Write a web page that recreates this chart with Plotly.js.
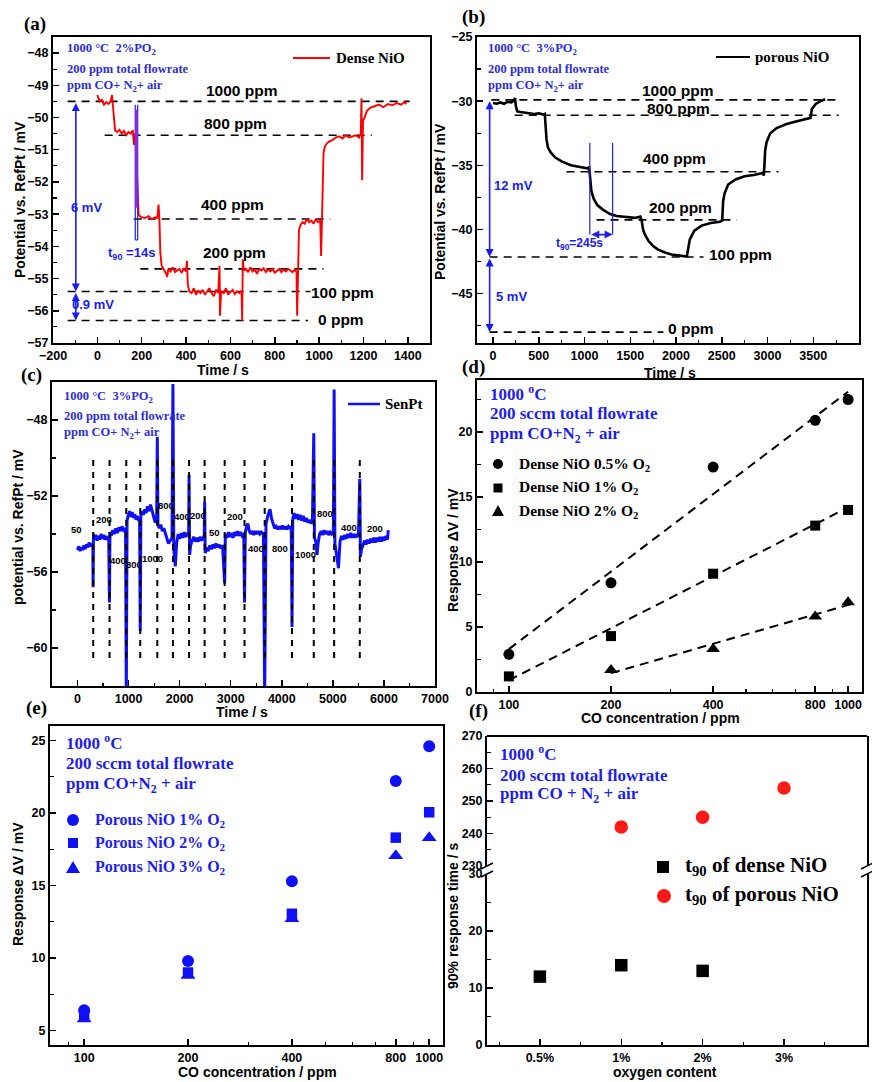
<!DOCTYPE html>
<html><head><meta charset="utf-8">
<script src="https://cdn.plot.ly/plotly-3.0.1.min.js"></script>
<style>html,body{margin:0;padding:0;background:#fff}#chart{width:872px;height:1082px}</style>
</head><body><div id="chart"></div>
<script>
// ---------------- DATA ----------------
// (a) Dense NiO, 2% PO2 : [time s, potential mV]
const aTrace = [[0,-49.30],[10,-49.50],[20,-49.45],[30,-49.60],[40,-49.52],[50,-49.58],[60,-49.50],[66,-49.30],[70,-49.62],[75,-50.00],[80,-50.40],[90,-50.45],[100,-50.38],[110,-50.50],[120,-50.42],[130,-50.55],[140,-50.45],[150,-50.50],[160,-50.40],[165,-50.85],[170,-50.50],[174,-50.90],[178,-51.80],[182,-52.70],[186,-53.00],[190,-53.05],[200,-53.10],[215,-53.12],[230,-53.06],[245,-53.15],[260,-53.10],[270,-53.12],[276,-52.70],[280,-53.20],[284,-54.20],[290,-54.60],[300,-54.72],[310,-54.85],[315,-54.95],[320,-54.70],[330,-54.78],[340,-54.65],[350,-54.80],[360,-54.75],[370,-54.70],[380,-54.82],[390,-54.70],[400,-54.78],[404,-54.45],[408,-55.20],[415,-55.40],[425,-55.45],[435,-55.30],[445,-55.50],[455,-55.38],[465,-55.45],[475,-55.35],[485,-55.50],[495,-55.40],[505,-55.30],[515,-55.45],[525,-55.55],[535,-55.35],[545,-55.45],[551,-54.60],[553,-56.15],[558,-55.40],[570,-55.45],[580,-55.30],[590,-55.50],[600,-55.42],[610,-55.35],[620,-55.48],[630,-55.40],[640,-55.45],[650,-55.38],[653,-56.30],[656,-54.40],[660,-54.75],[670,-54.70],[680,-54.80],[690,-54.65],[700,-54.78],[710,-54.72],[720,-54.85],[730,-54.70],[740,-54.75],[750,-54.68],[760,-54.80],[770,-54.72],[780,-54.78],[790,-54.70],[800,-54.82],[810,-54.75],[820,-54.70],[830,-54.80],[840,-54.72],[850,-54.78],[860,-54.70],[870,-54.75],[880,-54.80],[890,-54.72],[898,-54.80],[901,-56.15],[905,-54.00],[909,-53.50],[915,-53.35],[925,-53.25],[935,-53.30],[945,-53.15],[955,-53.25],[965,-53.20],[975,-53.30],[985,-53.15],[995,-53.25],[1005,-53.20],[1009,-54.30],[1014,-52.50],[1020,-51.10],[1026,-50.90],[1035,-50.80],[1045,-50.75],[1060,-50.70],[1075,-50.62],[1090,-50.58],[1105,-50.65],[1120,-50.55],[1135,-50.62],[1150,-50.58],[1165,-50.55],[1180,-50.62],[1188,-50.50],[1191,-49.40],[1194,-51.95],[1198,-50.10],[1205,-50.00],[1215,-49.80],[1230,-49.70],[1250,-49.65],[1270,-49.60],[1290,-49.68],[1310,-49.58],[1330,-49.62],[1350,-49.55],[1370,-49.60],[1385,-49.52],[1393,-49.58]];
const aLevelNames = ['1000 ppm','800 ppm','400 ppm','200 ppm','100 ppm','0 ppm'];
const aLevels = [-49.5,-50.55,-53.15,-54.7,-55.4,-56.3];
const aLevelFrom = [-134,33,164,194,-134,-134];
const aLevelTo = [1408,1237,1050,1020,961,950];

// (b) porous NiO, 3% PO2
const bTrace = [[0,-30.15],[40,-30.20],[80,-30.10],[120,-30.20],[160,-30.05],[200,-30.10],[230,-29.95],[240,-29.75],[250,-30.40],[265,-30.80],[300,-30.85],[350,-30.90],[400,-30.95],[450,-31.00],[500,-30.95],[550,-31.05],[566,-31.00],[575,-32.00],[585,-33.00],[600,-33.60],[630,-34.00],[680,-34.40],[750,-34.70],[850,-35.00],[950,-35.15],[1040,-35.25],[1050,-35.10],[1060,-36.20],[1075,-37.00],[1100,-37.60],[1140,-38.10],[1200,-38.45],[1280,-38.80],[1350,-38.95],[1450,-39.05],[1550,-39.10],[1610,-39.00],[1625,-39.30],[1640,-40.00],[1660,-40.40],[1700,-40.90],[1750,-41.30],[1800,-41.55],[1880,-41.80],[1950,-41.95],[2030,-42.05],[2100,-42.10],[2120,-42.05],[2135,-41.20],[2150,-40.80],[2200,-40.10],[2280,-39.70],[2380,-39.50],[2480,-39.40],[2505,-39.30],[2515,-37.80],[2530,-37.20],[2570,-36.50],[2650,-36.10],[2750,-35.85],[2850,-35.75],[2950,-35.60],[2960,-35.80],[2975,-33.80],[2990,-33.20],[3030,-32.50],[3100,-32.10],[3200,-31.80],[3300,-31.60],[3400,-31.40],[3470,-31.30],[3485,-30.60],[3530,-30.20],[3580,-30.00],[3630,-29.85]];
const bLevelNames = ['1000 ppm','800 ppm','400 ppm','200 ppm','100 ppm','0 ppm'];
const bLevels = [-29.9,-31.1,-35.5,-39.25,-42.15,-48.0];
const bLevelFrom = [-18,237,803,1131,-37,-37];
const bLevelTo = [3778,3778,3120,2664,2300,1862];

// (c) SenPt, 3% PO2
const cTrace = [[0,-54.85],[25,-54.65],[50,-54.9],[75,-54.7],[100,-54.85],[125,-54.6],[150,-54.8],[175,-54.55],[200,-54.7],[225,-54.45],[250,-54.65],[275,-54.5],[300,-54.6],[305,-56.8],[312,-54.0],[335,-54.3],[360,-54.05],[385,-54.35],[410,-54.1],[435,-54.3],[460,-54.0],[485,-54.25],[510,-54.05],[535,-54.3],[560,-54.1],[585,-54.3],[610,-54.15],[625,-57.6],[635,-53.9],[660,-54.1],[690,-53.8],[720,-54.0],[750,-53.7],[780,-53.95],[810,-53.65],[840,-53.85],[870,-53.6],[900,-53.8],[940,-53.7],[955,-62.5],[970,-53.3],[995,-53.0],[1020,-52.8],[1045,-53.1],[1070,-52.85],[1095,-53.15],[1120,-52.95],[1145,-53.25],[1170,-53.05],[1200,-53.3],[1215,-53.2],[1228,-59.1],[1240,-53.0],[1265,-52.8],[1290,-53.0],[1315,-52.7],[1340,-52.9],[1370,-52.55],[1400,-52.8],[1430,-52.45],[1460,-52.75],[1490,-53.1],[1520,-53.4],[1550,-53.2],[1562,-48.9],[1575,-53.5],[1600,-53.7],[1630,-53.5],[1660,-53.85],[1690,-53.7],[1720,-54.0],[1750,-54.3],[1780,-54.5],[1850,-54.2],[1868,-46.1],[1885,-54.8],[1915,-55.7],[1940,-54.5],[1970,-54.0],[2000,-54.25],[2030,-53.95],[2060,-54.2],[2090,-53.9],[2120,-54.15],[2150,-53.95],[2175,-54.1],[2184,-50.9],[2195,-55.1],[2215,-54.6],[2245,-54.35],[2275,-54.15],[2305,-54.4],[2335,-54.2],[2365,-54.4],[2395,-54.15],[2425,-54.35],[2455,-54.2],[2480,-54.3],[2489,-52.3],[2500,-55.0],[2530,-54.7],[2560,-54.9],[2590,-54.6],[2620,-54.8],[2650,-54.55],[2680,-54.75],[2710,-54.5],[2740,-54.7],[2770,-54.55],[2800,-54.75],[2840,-54.6],[2881,-56.6],[2895,-54.0],[2925,-54.2],[2955,-53.9],[2985,-54.15],[3015,-53.95],[3045,-54.2],[3075,-53.9],[3105,-54.1],[3135,-53.85],[3165,-54.1],[3195,-53.9],[3225,-54.1],[3255,-54.0],[3270,-57.6],[3285,-53.9],[3310,-53.6],[3335,-53.45],[3360,-53.8],[3390,-54.0],[3420,-53.85],[3450,-54.05],[3480,-53.85],[3510,-54.0],[3540,-53.85],[3570,-54.0],[3600,-53.9],[3640,-54.0],[3665,-62.5],[3690,-53.5],[3730,-53.0],[3770,-52.7],[3800,-53.2],[3830,-53.5],[3860,-53.7],[3890,-53.6],[3920,-53.75],[3950,-53.6],[3980,-53.75],[4010,-53.55],[4040,-53.75],[4070,-53.6],[4100,-53.75],[4130,-53.6],[4160,-53.7],[4185,-53.6],[4200,-58.9],[4215,-53.2],[4240,-52.9],[4270,-53.2],[4300,-52.95],[4330,-53.25],[4360,-53.0],[4390,-53.3],[4420,-53.05],[4450,-53.35],[4480,-53.15],[4510,-53.4],[4540,-53.25],[4570,-53.45],[4600,-53.3],[4626,-48.7],[4640,-54.2],[4665,-54.4],[4690,-55.1],[4710,-54.5],[4740,-54.0],[4770,-53.85],[4800,-54.05],[4830,-53.8],[4860,-54.0],[4890,-53.85],[4920,-54.05],[4950,-53.9],[4980,-54.0],[5010,-53.9],[5025,-46.4],[5040,-54.5],[5080,-55.3],[5110,-55.8],[5140,-54.4],[5170,-54.1],[5200,-54.3],[5230,-54.05],[5260,-54.25],[5290,-54.0],[5320,-54.2],[5350,-53.95],[5380,-54.2],[5410,-54.0],[5440,-54.2],[5470,-54.0],[5500,-54.15],[5527,-51.1],[5540,-55.2],[5560,-54.8],[5590,-54.6],[5620,-54.35],[5650,-54.55],[5680,-54.3],[5710,-54.5],[5740,-54.25],[5770,-54.45],[5800,-54.2],[5830,-54.45],[5860,-54.2],[5890,-54.4],[5920,-54.15],[5950,-54.4],[5980,-54.15],[6010,-54.35],[6040,-54.1],[6070,-54.3],[6085,-53.8]];
const cSwitchTimes = [307,627,954,1228,1562,1868,2184,2489,2881,3270,3665,4200,4626,5025,5527];
const cSwitchTop = -50.1, cSwitchBottom = -60.6;
const cStepLabels = ['50','200','400','800','1000','800','400','200','50','200','400','800','1000','800','400','200'];
const cStepLabelT = [-20,517,798,1112,1471,1727,2040,2367,2675,3087,3499,3957,4460,4853,5310,5834];
const cStepLabelV = [-53.75,-53.26,-55.4,-55.6,-55.3,-52.5,-53.1,-53.0,-53.9,-53.1,-54.75,-54.75,-55.1,-52.9,-53.65,-53.7];

// (d) dense NiO response vs CO
const dConc = [100,200,400,800,1000];
const dResp05 = [2.9,8.4,17.3,20.9,22.5];
const dResp1 = [1.2,4.3,9.1,12.8,14.0];
const dConc2 = [200,400,800,1000];
const dResp2 = [1.7,3.3,5.8,6.9];
const dFit05X = [100,1000], dFit05Y = [3.3,23.1];
const dFit1X = [100,1000], dFit1Y = [0.9,14.2];
const dFit2X = [200,1050], dFit2Y = [1.45,6.85];

// (e) porous NiO response vs CO
const eConc = [100,200,400,800,1000];
const eResp1 = [6.4,9.8,15.3,22.2,24.6];
const eResp2 = [6.0,9.0,13.05,18.3,20.05];
const eResp3 = [5.8,8.8,12.7,17.05,18.3];

// (f) t90 vs oxygen content
const oxygenLabels = ['0.5%','1%','2%','3%'];
const denseOxygen = ['0.5%','1%','2%'];
const denseT90 = [12,14,13];
const porousOxygen = ['1%','2%','3%'];
const porousT90 = [242,245,254];

// ---------------- HELPERS ----------------
const W = 872, H = 1082;
const FS = 'Liberation Sans, Arial, sans-serif';
const FT = 'Liberation Serif, Times New Roman, serif';
const BLUE_T = '#2e2ed2';
const BLUE = '#1010f5';
const fx = p => p / W, fy = p => 1 - p / H;

function levelLines(levels, from, to) {
  const x = [], y = [];
  levels.forEach((v, i) => { x.push(from[i], to[i], null); y.push(v, v, null); });
  return {x, y};
}
function axis(o) {
  return Object.assign({
    showline: true, mirror: true, linecolor: '#000', linewidth: 2,
    ticks: 'inside', ticklen: 6, tickwidth: 1.5, tickcolor: '#000',
    showgrid: false, zeroline: false, fixedrange: true,
    tickfont: {family: FS, size: 12.5, color: '#000', weight: 'bold'}
  }, o);
}
function minor(o) { return Object.assign({ticks: 'inside', ticklen: 3.5, tickwidth: 1.2, tickcolor: '#000', showgrid: false}, o); }

const traces = [];
// (a)
const aLv = levelLines(aLevels, aLevelFrom, aLevelTo);
traces.push({x: aLv.x, y: aLv.y, xaxis: 'x', yaxis: 'y', mode: 'lines', line: {color: '#000', width: 1.6, dash: '8px,6px'}, hoverinfo: 'skip'});
traces.push({x: aTrace.map(p => p[0]), y: aTrace.map(p => p[1]), xaxis: 'x', yaxis: 'y', mode: 'lines', line: {color: '#ff0000', width: 1.9}, name: 'Dense NiO'});
// (b)
const bLv = levelLines(bLevels, bLevelFrom, bLevelTo);
traces.push({x: bLv.x, y: bLv.y, xaxis: 'x2', yaxis: 'y2', mode: 'lines', line: {color: '#000', width: 1.6, dash: '8px,6px'}, hoverinfo: 'skip'});
traces.push({x: bTrace.map(p => p[0]), y: bTrace.map(p => p[1]), xaxis: 'x2', yaxis: 'y2', mode: 'lines', line: {color: '#000', width: 2.6}, name: 'porous NiO'});
// (c)
const cvx = [], cvy = [];
cSwitchTimes.forEach(t => { cvx.push(t, t, null); cvy.push(cSwitchTop, cSwitchBottom, null); });
traces.push({x: cTrace.map(p => p[0]), y: cTrace.map(p => p[1]), xaxis: 'x3', yaxis: 'y3', mode: 'lines', line: {color: BLUE, width: 3}, name: 'SenPt'});
traces.push({x: cvx, y: cvy, xaxis: 'x3', yaxis: 'y3', mode: 'lines', line: {color: '#000', width: 2, dash: '6px,6px'}, hoverinfo: 'skip'});
// (d)
const dash = {color: '#000', width: 2, dash: '9px,6px'};
traces.push({x: dFit05X, y: dFit05Y, xaxis: 'x4', yaxis: 'y4', mode: 'lines', line: dash});
traces.push({x: dFit1X, y: dFit1Y, xaxis: 'x4', yaxis: 'y4', mode: 'lines', line: dash});
traces.push({x: dFit2X, y: dFit2Y, xaxis: 'x4', yaxis: 'y4', mode: 'lines', line: dash});
traces.push({x: dConc, y: dResp05, xaxis: 'x4', yaxis: 'y4', mode: 'markers', marker: {symbol: 'circle', size: 11, color: '#000'}});
traces.push({x: dConc, y: dResp1, xaxis: 'x4', yaxis: 'y4', mode: 'markers', marker: {symbol: 'square', size: 10, color: '#000'}});
traces.push({x: dConc2, y: dResp2, xaxis: 'x4', yaxis: 'y4', mode: 'markers', marker: {symbol: 'triangle-up', size: 12, color: '#000'}});
// (e)
traces.push({x: eConc, y: eResp3, xaxis: 'x5', yaxis: 'y5', mode: 'markers', marker: {symbol: 'triangle-up', size: 13, color: BLUE}});
traces.push({x: eConc, y: eResp2, xaxis: 'x5', yaxis: 'y5', mode: 'markers', marker: {symbol: 'square', size: 10.5, color: BLUE}});
traces.push({x: eConc, y: eResp1, xaxis: 'x5', yaxis: 'y5', mode: 'markers', marker: {symbol: 'circle', size: 12, color: BLUE}});
// (f)
traces.push({x: denseOxygen.map(o => oxygenLabels.indexOf(o)), y: denseT90, xaxis: 'x6', yaxis: 'y6', mode: 'markers', marker: {symbol: 'square', size: 12.5, color: '#000'}});
traces.push({x: porousOxygen.map(o => oxygenLabels.indexOf(o)), y: porousT90, xaxis: 'x6', yaxis: 'y7', mode: 'markers', marker: {symbol: 'circle', size: 13.5, color: '#ff1a1a'}});

// ---------------- LAYOUT ----------------
const layout = {
  width: W, height: H, margin: {l: 0, r: 0, t: 0, b: 0},
  paper_bgcolor: '#fff', plot_bgcolor: 'rgba(0,0,0,0)', showlegend: false,
  xaxis: axis({domain: [fx(53), fx(430)], anchor: 'y', range: [-200, 1500], tick0: 0, dtick: 200, minor: minor({dtick: 100})}),
  yaxis: axis({domain: [fy(343), fy(37)], anchor: 'x', range: [-57, -47.5], tick0: -57, dtick: 1, minor: minor({dtick: 0.5})}),
  xaxis2: axis({domain: [fx(477), fx(859)], anchor: 'y2', range: [-175, 4000], tick0: 0, dtick: 500, minor: minor({dtick: 250})}),
  yaxis2: axis({domain: [fy(343), fy(37)], anchor: 'x2', range: [-48.85, -25], tick0: -25, dtick: 5, minor: minor({dtick: 2.5})}),
  xaxis3: axis({domain: [fx(52), fx(435)], anchor: 'y3', range: [-500, 7000], tick0: 0, dtick: 1000, minor: minor({dtick: 500})}),
  yaxis3: axis({domain: [fy(686), fy(382)], anchor: 'x3', range: [-62, -46], tickmode: 'array', tickvals: [-48, -52, -56, -60], minor: minor({tickmode: 'array', tickvals: [-46, -50, -54, -58, -62]})}),
  xaxis4: axis({domain: [fx(477), fx(862)], anchor: 'y4', type: 'log', range: [1.906, 3.041], tickmode: 'array', tickvals: [100, 200, 400, 800, 1000], ticktext: ['100', '200', '400', '800', '1000'], minor: minor({tickmode: 'array', tickvals: [90, 300, 500, 600, 700, 900]})}),
  yaxis4: axis({domain: [fy(692), fy(380)], anchor: 'x4', range: [0, 24], tick0: 0, dtick: 5, minor: minor({dtick: 2.5})}),
  xaxis5: axis({domain: [fx(50), fx(443)], anchor: 'y5', type: 'log', range: [1.901, 3.04], tickmode: 'array', tickvals: [100, 200, 400, 800, 1000], ticktext: ['100', '200', '400', '800', '1000'], minor: minor({tickmode: 'array', tickvals: [90, 300, 500, 600, 700, 900]})}),
  yaxis5: axis({domain: [fy(1045), fy(726)], anchor: 'x5', range: [4, 26], tick0: 0, dtick: 5, minor: minor({dtick: 2.5})}),
  xaxis6: axis({domain: [fx(487), fx(867)], anchor: 'y6', mirror: false, range: [-0.65, 4.02], tickmode: 'array', tickvals: [0, 1, 2, 3], ticktext: oxygenLabels, minor: minor({tickmode: 'array', tickvals: [-0.5, 0.5, 1.5, 2.5, 3.5]})}),
  yaxis6: axis({domain: [fy(1045), fy(874)], anchor: 'x6', range: [0, 30], tick0: 0, dtick: 10, minor: minor({dtick: 5})}),
  yaxis7: axis({domain: [fy(866), fy(736)], anchor: 'x6', range: [230, 270], tick0: 230, dtick: 10, minor: minor({dtick: 5})}),
  shapes: [], annotations: []
};
const S = layout.shapes, A = layout.annotations;
function pl(x0, y0, x1, y1, color, width) { S.push({type: 'line', xref: 'paper', yref: 'paper', x0: fx(x0), y0: fy(y0), x1: fx(x1), y1: fy(y1), line: {color, width}}); }
function dl(xr, yr, x0, y0, x1, y1, color, width) { S.push({type: 'line', xref: xr, yref: yr, x0, y0, x1, y1, line: {color, width}}); }
function pa(text, x, y, font, extra) { A.push(Object.assign({text, x: fx(x), y: fy(y), xref: 'paper', yref: 'paper', showarrow: false, xanchor: 'center', yanchor: 'middle', font}, extra || {})); }
function da(text, xr, yr, x, y, font, extra) { A.push(Object.assign({text, x, y, xref: xr, yref: yr, showarrow: false, xanchor: 'center', yanchor: 'middle', font}, extra || {})); }
function arrow2(xr, yr, x0, y0, x1, y1, color) { A.push({text: '', xref: xr, yref: yr, axref: xr, ayref: yr, x: x1, y: y1, ax: x0, ay: y0, showarrow: true, arrowside: 'end+start', arrowhead: 2, arrowsize: 1, arrowwidth: 1.6, arrowcolor: color, standoff: 0, startstandoff: 0}); }

const fPanel = {family: FT, size: 19, color: '#000', weight: 'bold'};
const fAxis = {family: FS, size: 14, color: '#000', weight: 'bold'};
const fBlockS = {family: FT, size: 12.5, color: BLUE_T, weight: 'bold'};
const fBlockL = {family: FT, size: 17, color: '#1e1ee6', weight: 'bold'};
const fLevel = {family: FS, size: 15.5, color: '#000', weight: 'bold'};
const fBlueS = {family: FS, size: 13, color: '#1a1af0', weight: 'bold'};
const fLegS = {family: FT, size: 15, color: '#000', weight: 'bold'};

// panel letters
pa('(a)', 35, 24, fPanel); pa('(b)', 473, 17, fPanel); pa('(c)', 31, 375, fPanel);
pa('(d)', 473, 367, fPanel); pa('(e)', 36, 708, fPanel); pa('(f)', 478, 711, fPanel);

// axis titles
pa('Potential vs. RefPt / mV', 20, 200, fAxis, {textangle: -90});
pa('Time / s', 223, 370, fAxis);
pa('Potential vs. RefPt / mV', 440, 202, fAxis, {textangle: -90});
pa('Time / s', 670, 373, fAxis);
pa('potential vs. RefPt / mV', 18, 527, fAxis, {textangle: -90});
pa('Time / s', 242, 712, fAxis);
pa('Response \u0394V / mV', 453, 550, fAxis, {textangle: -90});
pa('CO concentration / ppm', 660, 718, fAxis);
pa('Response \u0394V / mV', 18, 884, fAxis, {textangle: -90});
pa('CO concentration / ppm', 257, 1072, fAxis);
pa('90% response time / s', 453, 915, fAxis, {textangle: -90});
pa('oxygen content', 665, 1072, fAxis);

// condition text blocks
const L = {xanchor: 'left'};
pa('1000 \u00b0C\u00a0\u00a02%PO<sub>2</sub>', 65, 49, fBlockS, L);
pa('200 ppm total flowrate', 65, 69, fBlockS, L);
pa('ppm CO+ N<sub>2</sub>+ air', 65, 86, fBlockS, L);
pa('1000 \u00b0C\u00a0\u00a03%PO<sub>2</sub>', 486, 49, fBlockS, L);
pa('200 ppm total flowrate', 486, 69, fBlockS, L);
pa('ppm CO+ N<sub>2</sub>+ air', 486, 86, fBlockS, L);
pa('1000 \u00b0C\u00a0\u00a03%PO<sub>2</sub>', 62, 397, fBlockS, L);
pa('200 ppm total flowrate', 62, 416, fBlockS, L);
pa('ppm CO+ N<sub>2</sub>+ air', 62, 433, fBlockS, L);
pa('1000 <sup>o</sup>C', 488, 393, fBlockL, L);
pa('200 sccm total flowrate', 488, 414, fBlockL, L);
pa('ppm CO+N<sub>2</sub> + air', 488, 435, fBlockL, L);
pa('1000 <sup>o</sup>C', 64, 742, fBlockL, L);
pa('200 sccm total flowrate', 64, 763, fBlockL, L);
pa('ppm CO+N<sub>2</sub> + air', 64, 785, fBlockL, L);
pa('1000 <sup>o</sup>C', 498, 753, fBlockL, L);
pa('200 sccm total flowrate', 498, 775, fBlockL, L);
pa('ppm CO + N<sub>2</sub> + air', 498, 795, fBlockL, L);

// line legends (a)(b)(c)
pl(293, 58, 330, 58, '#ff0000', 2); pa('Dense NiO', 334, 58, fLegS, L);
pl(716, 57, 750, 57, '#000', 2); pa('porous NiO', 753, 57, fLegS, L);
pl(348, 404, 380, 404, BLUE, 2.5); pa('SenPt', 383, 404, fLegS, L);

// level labels
const aLabPos = [[653, -49.17], [623, -50.2], [608, -52.7], [618, -54.2], [1107, -55.44], [1100, -56.27]];
aLevelNames.forEach((t, i) => da(t, 'x', 'y', aLabPos[i][0], aLabPos[i][1], fLevel));
const bLabPos = [[2026, -29.16], [2026, -30.6], [1982, -34.5], [2044, -38.3], [2701, -41.96], [2161, -47.75]];
bLevelNames.forEach((t, i) => da(t, 'x2', 'y2', bLabPos[i][0], bLabPos[i][1], fLevel));
cStepLabels.forEach((t, i) => da(t, 'x3', 'y3', cStepLabelT[i], cStepLabelV[i], {family: FS, size: 9.5, color: '#000', weight: 'bold'}));

// (a) arrows and t90
arrow2('x', 'y', -97, -49.5, -97, -55.4, '#1a1af0');
arrow2('x', 'y', -97, -55.4, -97, -56.3, '#1a1af0');
da('6 mV', 'x', 'y', -48, -52.8, fBlueS);
da('0.9 mV', 'x', 'y', -20, -55.82, fBlueS);
dl('x', 'y', 171, -49.6, 171, -53.8, '#2020e0', 1.2);
dl('x', 'y', 182, -49.6, 182, -53.8, '#2020e0', 1.2);
dl('x', 'y', 176, -49.75, 176, -52.8, '#8a2be2', 3);
dl('x', 'y', 171, -53.8, 182, -53.8, '#2020e0', 1.2);
da('t<sub>90</sub> =14s', 'x', 'y', 152, -54.22, fBlueS);

// (b) arrows and t90
arrow2('x2', 'y2', -37, -29.9, -37, -42.15, '#1a1af0');
arrow2('x2', 'y2', -37, -42.15, -37, -48.0, '#1a1af0');
da('12 mV', 'x2', 'y2', 219, -36.6, fBlueS);
da('5 mV', 'x2', 'y2', 200, -45.2, fBlueS);
dl('x2', 'y2', 1058, -33.26, 1058, -40.4, '#2020e0', 1.2);
dl('x2', 'y2', 1307, -33.26, 1307, -40.4, '#2020e0', 1.2);
arrow2('x2', 'y2', 1058, -40.4, 1307, -40.4, '#2020e0');
da('t<sub>90</sub>=245s', 'x2', 'y2', 949, -41.1, {family: FS, size: 12, color: '#1a1af0', weight: 'bold'});

// (d) legend
const fLegD = {family: FT, size: 15.5, color: '#000', weight: 'bold'};
S.push({type: 'circle', xref: 'paper', yref: 'paper', x0: fx(493), x1: fx(503), y0: fy(469), y1: fy(459), fillcolor: '#000', line: {width: 0}});
S.push({type: 'rect', xref: 'paper', yref: 'paper', x0: fx(493.5), x1: fx(502.5), y0: fy(492.5), y1: fy(483.5), fillcolor: '#000', line: {width: 0}});
S.push({type: 'path', xref: 'paper', yref: 'paper', path: `M ${fx(492)} ${fy(516)} L ${fx(504)} ${fy(516)} L ${fx(498)} ${fy(505)} Z`, fillcolor: '#000', line: {width: 0}});
pa('Dense NiO 0.5% O<sub>2</sub>', 517, 464, fLegD, L);
pa('Dense NiO 1% O<sub>2</sub>', 517, 488, fLegD, L);
pa('Dense NiO 2% O<sub>2</sub>', 517, 511, fLegD, L);

// (e) legend
const fLegE = {family: FT, size: 16, color: '#1e1ee6', weight: 'bold'};
S.push({type: 'circle', xref: 'paper', yref: 'paper', x0: fx(67), x1: fx(79), y0: fy(826), y1: fy(814), fillcolor: BLUE, line: {width: 0}});
S.push({type: 'rect', xref: 'paper', yref: 'paper', x0: fx(68), x1: fx(78), y0: fy(848), y1: fy(838), fillcolor: BLUE, line: {width: 0}});
S.push({type: 'path', xref: 'paper', yref: 'paper', path: `M ${fx(66)} ${fy(873)} L ${fx(80)} ${fy(873)} L ${fx(73)} ${fy(861)} Z`, fillcolor: BLUE, line: {width: 0}});
pa('Porous NiO 1% O<sub>2</sub>', 93, 820, fLegE, L);
pa('Porous NiO 2% O<sub>2</sub>', 93, 843, fLegE, L);
pa('Porous NiO 3% O<sub>2</sub>', 93, 867, fLegE, L);

// (f) legend
const fLegF = {family: FT, size: 21, color: '#000', weight: 'bold'};
S.push({type: 'rect', xref: 'paper', yref: 'paper', x0: fx(657), x1: fx(669), y0: fy(873), y1: fy(861), fillcolor: '#000', line: {width: 0}});
S.push({type: 'circle', xref: 'paper', yref: 'paper', x0: fx(657), x1: fx(671), y0: fy(903), y1: fy(889), fillcolor: '#ff1a1a', line: {width: 0}});
pa('t<sub>90</sub> of dense NiO', 683, 866, fLegF, L);
pa('t<sub>90</sub> of porous NiO', 683, 895, fLegF, L);

// (f) frame top and axis breaks
pl(487, 736, 867, 736, '#000', 2);
[487, 867].forEach(x => {
  pl(x - 6, 869, x + 6, 863, '#000', 1.5);
  pl(x - 6, 877, x + 6, 871, '#000', 1.5);
});

Plotly.newPlot('chart', traces, layout, {displayModeBar: false, staticPlot: true});
</script></body></html>
